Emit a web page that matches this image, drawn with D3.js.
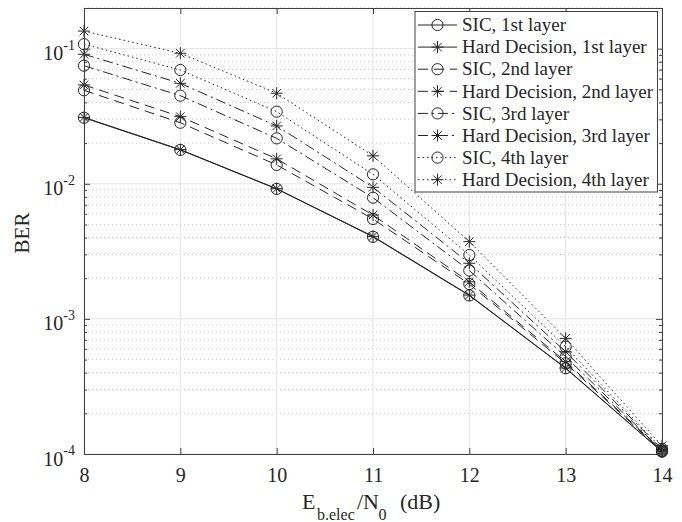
<!DOCTYPE html>
<html><head><meta charset="utf-8">
<script src="https://cdn.jsdelivr.net/npm/d3@7"></script>
<style>body{margin:0;background:#fff}svg{display:block}</style>
</head><body><svg id="c" width="682" height="522"></svg>
<script>
const snr = [8, 9, 10, 11, 12, 13, 14];
const sic1 = [0.0308, 0.0178, 0.00916, 0.00405, 0.00149, 0.000431, 0.000104];
const hd1  = [0.0310, 0.0179, 0.00920, 0.00408, 0.00150, 0.000433, 0.000104];
const sic2 = [0.0492, 0.0283, 0.0138, 0.00549, 0.00181, 0.000469, 0.000105];
const hd2  = [0.0539, 0.0314, 0.0153, 0.00587, 0.00188, 0.000482, 0.000106];
const sic3 = [0.0748, 0.0449, 0.0217, 0.00789, 0.00228, 0.000525, 0.000106];
const hd3  = [0.0909, 0.0554, 0.0268, 0.00942, 0.00258, 0.000571, 0.000108];
const sic4 = [0.108, 0.0695, 0.0342, 0.01175, 0.00297, 0.000622, 0.000109];
const hd4  = [0.135, 0.0925, 0.0468, 0.0161, 0.00373, 0.000718, 0.000115];
const seriesNames = ["SIC, 1st layer","Hard Decision, 1st layer","SIC, 2nd layer","Hard Decision, 2nd layer","SIC, 3rd layer","Hard Decision, 3rd layer","SIC, 4th layer","Hard Decision, 4th layer"];
const seriesValues = [sic1, hd1, sic2, hd2, sic3, hd3, sic4, hd4];
const xTicks = [8, 9, 10, 11, 12, 13, 14];
const yTicks = [1e-4, 1e-3, 1e-2, 1e-1];

const dashes = ["none", "none", "10,6", "10,6", "10,4,2,4", "10,4,2,4", "1.5,3", "1.5,3"];
const markers = ["o","*","o","*","o","*","o","*"];
const ink = "#262626";
const axisInk = "#404040";
const font = "'Liberation Serif','Times New Roman',serif";

const svg = d3.select("#c");
const L=84, R=662, T=8, B=454;
const x = d3.scaleLinear().domain([8,14]).range([L,R]);
const y = d3.scaleLog().domain([1e-4,0.2]).range([B,T]);

const minorY = [];
for (let e=-4; e<=-1; e++) for (let k=2;k<=9;k++){ const v=k*Math.pow(10,e); if (v<=0.2) minorY.push(v); }

svg.append("rect").attr("x",L).attr("y",T).attr("width",R-L).attr("height",B-T).attr("fill","#fff");

// grid
const g = svg.append("g");
g.selectAll(".mg").data(minorY).join("line")
  .attr("x1",L).attr("x2",R).attr("y1",d=>y(d)).attr("y2",d=>y(d))
  .attr("stroke","#c8c8c8").attr("stroke-width",1).attr("stroke-dasharray","1,3");
g.selectAll(".gy").data(yTicks).join("line")
  .attr("x1",L).attr("x2",R).attr("y1",d=>y(d)).attr("y2",d=>y(d))
  .attr("stroke","#e3e3e3").attr("stroke-width",1);
g.selectAll(".gx").data(xTicks).join("line")
  .attr("y1",T).attr("y2",B).attr("x1",d=>x(d)).attr("x2",d=>x(d))
  .attr("stroke","#e3e3e3").attr("stroke-width",1);

// series
const line = d3.line().x((d,i)=>x(snr[i])).y(d=>y(d));
const starPath = (s)=>{const r=s/2, d=r*0.7071; return `M${-r},0L${r},0M0,${-r}L0,${r}M${-d},${-d}L${d},${d}M${-d},${d}L${d},${-d}`;};
function drawMarker(sel, type, cx, cy){
  if (type==="o") sel.append("circle").attr("cx",cx).attr("cy",cy).attr("r",5.6).attr("fill","none").attr("stroke",ink).attr("stroke-width",1);
  else sel.append("path").attr("d",starPath(12)).attr("transform",`translate(${cx},${cy})`).attr("fill","none").attr("stroke",ink).attr("stroke-width",1);
}
const sg = svg.append("g");
seriesValues.forEach((vals, si)=>{
  sg.append("path").datum(vals).attr("d",line).attr("fill","none").attr("stroke",ink)
    .attr("stroke-width",1).attr("stroke-dasharray",dashes[si]);
  vals.forEach((v,i)=>drawMarker(sg, markers[si], x(snr[i]), y(v)));
});

// axes
const ax = svg.append("g").attr("font-family",font);
const axB = ax.append("g").attr("transform",`translate(0,${B})`).call(d3.axisBottom(x).tickValues(xTicks).tickSize(-6).tickPadding(14).tickFormat(d3.format("d")));
const axT = ax.append("g").attr("transform",`translate(0,${T})`).call(d3.axisTop(x).tickValues(xTicks).tickSize(-6).tickFormat(""));
const axL = ax.append("g").attr("transform",`translate(${L},0)`).call(d3.axisLeft(y).tickValues(yTicks).tickSize(-6).tickPadding(9).tickFormat(""));
const axR = ax.append("g").attr("transform",`translate(${R},0)`).call(d3.axisRight(y).tickValues(yTicks).tickSize(-6).tickFormat(""));
const axLm = ax.append("g").attr("transform",`translate(${L},0)`).call(d3.axisLeft(y).tickValues(minorY).tickSize(-3).tickFormat(""));
const axRm = ax.append("g").attr("transform",`translate(${R},0)`).call(d3.axisRight(y).tickValues(minorY).tickSize(-3).tickFormat(""));
axLm.select(".domain").remove(); axRm.select(".domain").remove();
ax.selectAll(".domain").attr("stroke",axisInk).attr("stroke-width",1);
ax.selectAll(".tick line").attr("stroke",axisInk);
ax.selectAll("text").attr("fill",ink);
axB.selectAll("text").attr("font-size",20).attr("font-family",font);
axL.selectAll(".tick text").each(function(d){
  const t=d3.select(this); t.text(null).attr("font-size",20).attr("font-family",font).attr("dy","11px");
  t.append("tspan").text("10");
  t.append("tspan").attr("font-size",14).attr("dy","-10.5px").text(String(Math.round(Math.log10(d))));
});

// axis labels
const xl = svg.append("text").attr("y",509).attr("font-family",font).attr("font-size",22).attr("fill",ink);
xl.append("tspan").attr("x",302).text("E");
xl.append("tspan").attr("x",317).attr("font-size",16).attr("dy",10.5).text("b.elec");
xl.append("tspan").attr("x",357).attr("dy",-10.5).text("/N");
xl.append("tspan").attr("x",378.5).attr("font-size",16).attr("dy",10.5).text("0");
xl.append("tspan").attr("x",400).attr("dy",-10.5).text("(dB)");
svg.append("text").attr("transform",`translate(29,233) rotate(-90)`).attr("text-anchor","middle")
  .attr("font-family",font).attr("font-size",21).attr("fill",ink).text("BER");

// legend
const lg = svg.append("g");
lg.append("rect").attr("x",415).attr("y",11.5).attr("width",242.5).attr("height",180.5)
  .attr("fill","#fff").attr("stroke",axisInk).attr("stroke-width",1);
seriesNames.forEach((name,i)=>{
  const yy = 25 + i*22.1;
  lg.append("line").attr("x1",418).attr("x2",457).attr("y1",yy).attr("y2",yy)
    .attr("stroke",ink).attr("stroke-width",1).attr("stroke-dasharray",dashes[i]);
  drawMarker(lg, markers[i], 437.5, yy);
  lg.append("text").attr("x",462).attr("y",yy).attr("dy","0.33em").attr("font-family",font)
    .attr("font-size",19).attr("fill",ink).text(name);
});
</script></body></html>
